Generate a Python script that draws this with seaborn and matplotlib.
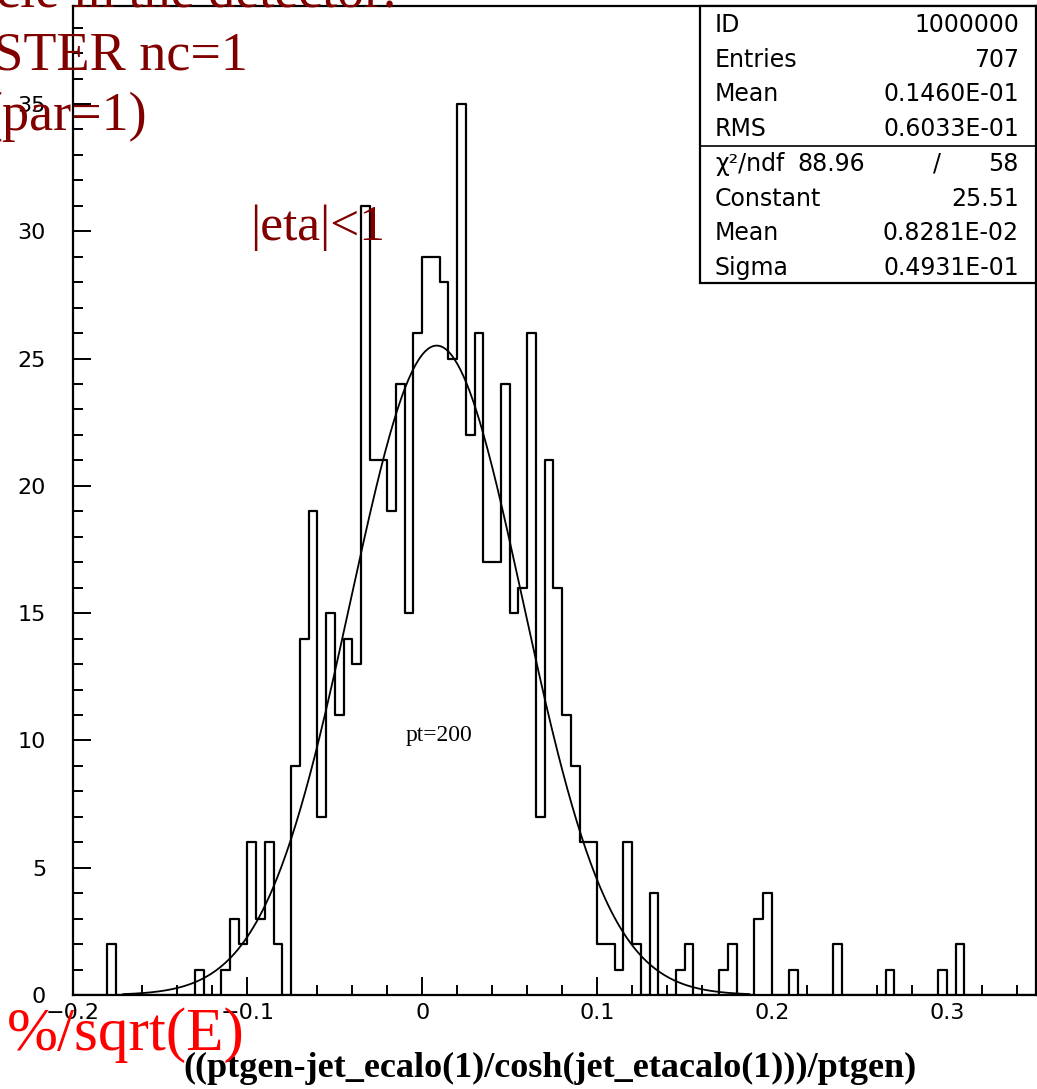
import numpy as np
import pandas as pd
import seaborn as sns
import matplotlib.pyplot as plt
from matplotlib.patches import Rectangle
from matplotlib.ticker import MultipleLocator, FuncFormatter

# histogram 1000000: 110 bins of 0.005 between -0.2 and 0.35
x_lo, x_hi, n_bins = -0.2, 0.35, 110
counts = [
    0, 0, 0, 0, 2, 0, 0, 0, 0, 0,            # -0.200 .. -0.155
    0, 0, 0, 0, 1, 0, 0, 1, 3, 2,            # -0.150 .. -0.105
    6, 3, 6, 2, 0, 9, 14, 19, 7, 15,         # -0.100 .. -0.055
    11, 14, 13, 31, 21, 21, 19, 24, 15, 26,  # -0.050 .. -0.005
    29, 29, 28, 25, 35, 22, 26, 17, 17, 24,  #  0.000 ..  0.045
    15, 16, 26, 7, 21, 16, 11, 9, 6, 6,      #  0.050 ..  0.095
    2, 2, 1, 6, 2, 0, 4, 0, 0, 1,            #  0.100 ..  0.145
    2, 0, 0, 0, 1, 2, 0, 0, 3, 4,            #  0.150 ..  0.195
    0, 0, 1, 0, 0, 0, 0, 2, 0, 0,            #  0.200 ..  0.245
    0, 0, 0, 1, 0, 0, 0, 0, 0, 1,            #  0.250 ..  0.295
    0, 2, 0, 0, 0, 0, 0, 0, 0, 0,            #  0.300 ..  0.345
]

# gaussian fit (from the stats box) and the range it is drawn over
fit_const, fit_mean, fit_sigma = 25.51, 0.008281, 0.04931
fit_lo, fit_hi = -0.171, 0.187

stat_names = ['ID', 'Entries', 'Mean', 'RMS']
stat_values = ['1000000', '707', '0.1460E-01', '0.6033E-01']
chi2, ndf = '88.96', '58'
fit_names = ['Constant', 'Mean', 'Sigma']
fit_values = ['25.51', '0.8281E-02', '0.4931E-01']

xlabel = '((ptgen-jet_ecalo(1)/cosh(jet_etacalo(1)))/ptgen)'

W, H = 1037, 1089


def fx(px):
    return px / W


def fy(py):
    return 1 - py / H


def main():
    fig = plt.figure(figsize=(W / 100, H / 100), dpi=100)
    ax = fig.add_axes([fx(72.5), fy(995), fx(1036) - fx(72.5), fy(6) - fy(995)])

    width = (x_hi - x_lo) / n_bins
    df = pd.DataFrame({'x': x_lo + width * (np.arange(n_bins) + 0.5), 'n': counts})
    sns.histplot(data=df, x='x', weights='n', binwidth=width,
                 binrange=(x_lo, x_hi), element='step', fill=False,
                 color='black', linewidth=1.6, ax=ax)

    xf = np.linspace(fit_lo, fit_hi, 400)
    yf = fit_const * np.exp(-0.5 * ((xf - fit_mean) / fit_sigma) ** 2)
    sns.lineplot(x=xf, y=yf, color='black', linewidth=1.3, ax=ax)

    ax.set_xlim(x_lo, 0.351)
    ax.set_ylim(0, 38.85)
    ax.set_xlabel('')
    ax.set_ylabel('')

    ax.xaxis.set_major_locator(MultipleLocator(0.1))
    ax.xaxis.set_minor_locator(MultipleLocator(0.02))
    ax.yaxis.set_major_locator(MultipleLocator(5))
    ax.yaxis.set_minor_locator(MultipleLocator(1))
    ax.xaxis.set_major_formatter(FuncFormatter(
        lambda v, p: '0' if abs(v) < 1e-9 else f'{v:.1f}'.replace('-', '\u2212')))
    ax.tick_params(which='both', direction='in', top=False, right=False,
                   width=1.4, labelsize=16, colors='black')
    ax.tick_params(which='major', length=13)
    ax.tick_params(which='minor', length=7)
    ax.tick_params(axis='y', which='major', pad=19)
    ax.tick_params(axis='x', which='major', pad=6)
    for lab in ax.get_xticklabels() + ax.get_yticklabels():
        lab.set_family('DejaVu Sans')
    for s in ax.spines.values():
        s.set_linewidth(1.6)
        s.set_color('black')

    # stats box
    bx0 = (700 - 72.5) / (1036 - 72.5)
    by0 = (995 - 283) / 989
    ax.add_patch(Rectangle((bx0, by0), 1 - bx0, 1 - by0, transform=ax.transAxes,
                           facecolor='white', edgecolor='black', lw=1.6,
                           zorder=5, clip_on=False))
    ydiv = (995 - 146) / 989
    ax.plot([bx0, 1], [ydiv, ydiv], transform=ax.transAxes, color='black',
            lw=1.2, zorder=6)

    st = dict(fontsize=17, family='DejaVu Sans', va='center', zorder=7)
    rows = list(zip(stat_names, stat_values))
    for k, (name, val) in enumerate(rows):
        py = 25 + 34.7 * k
        fig.text(fx(715), fy(py), name, ha='left', **st)
        fig.text(fx(1019), fy(py), val, ha='right', **st)
    py = 25 + 34.7 * 4
    fig.text(fx(715), fy(py), '\u03c7\u00b2/ndf', ha='left', **st)
    fig.text(fx(865), fy(py), chi2, ha='right', **st)
    fig.text(fx(937), fy(py), '/', ha='center', **st)
    fig.text(fx(1019), fy(py), ndf, ha='right', **st)
    for k, (name, val) in enumerate(zip(fit_names, fit_values)):
        py = 25 + 34.7 * (5 + k)
        fig.text(fx(715), fy(py), name, ha='left', **st)
        fig.text(fx(1019), fy(py), val, ha='right', **st)

    # annotations
    serif = 'Liberation Serif'
    fig.text(fx(550), fy(1077), xlabel, ha='center', va='baseline',
             fontsize=26, weight='bold', family=serif)
    fig.text(fx(406), fy(741), 'pt=200', ha='left', va='baseline',
             fontsize=17, family=serif)

    dark = '#800000'
    fig.text(fx(397), fy(7), 'particle in the detector:', ha='right',
             va='baseline', fontsize=39, color=dark, family=serif)
    fig.text(fx(248), fy(70), 'CLUSTER nc=1', ha='right', va='baseline',
             fontsize=39, color=dark, family=serif)
    fig.text(fx(147), fy(130), '(par=1)', ha='right', va='baseline',
             fontsize=39, color=dark, family=serif)
    fig.text(fx(250), fy(240), '|eta|<1', ha='left', va='baseline',
             fontsize=37, color=dark, family=serif)
    fig.text(fx(245), fy(1050), '%/sqrt(E)', ha='right', va='baseline',
             fontsize=44, color='#ff0000', family=serif)

    plt.savefig('out.png', dpi=100)


if __name__ == '__main__':
    main()
